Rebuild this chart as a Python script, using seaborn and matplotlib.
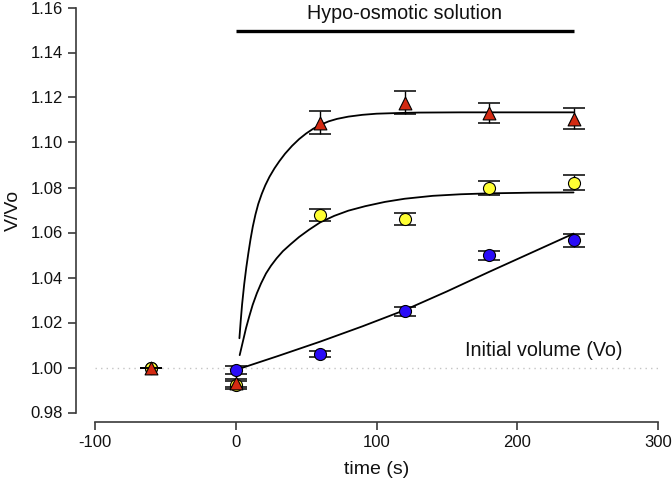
import matplotlib
matplotlib.use("Agg")
import matplotlib.pyplot as plt
import seaborn as sns
import pandas as pd

# ---- data ----
time = [-60, 0, 60, 120, 180, 240]

blue = [1.000, 0.9989, 1.0060, 1.0251, 1.0500, 1.0565]
blue_err = [0.0, 0.0016, 0.0015, 0.0020, 0.0020, 0.0030]

yellow = [1.000, 0.9922, 1.0676, 1.0661, 1.0798, 1.0821]
yellow_err = [0.0, 0.0018, 0.0027, 0.0027, 0.0030, 0.0034]

red = [1.000, 0.9930, 1.1088, 1.1177, 1.1130, 1.1106]
red_err = [0.0, 0.0018, 0.0050, 0.0050, 0.0045, 0.0048]

# fitted curves
red_fit_t = [2.6, 3.5, 4.5, 6.0, 7.5, 9.0, 10.5, 12.1, 14.0, 16.0, 18.5, 21.0, 24.0, 27.5,
             31.0, 35.0, 40.0, 45.0, 50.0, 55.0, 60.0, 66.0, 72.0, 80.0, 90.0, 100.0,
             115.0, 130.0, 160.0, 240.0]
red_fit_v = [1.0130, 1.0205, 1.0280, 1.0370, 1.0445, 1.0510, 1.0570, 1.0626, 1.0680, 1.0727,
             1.0772, 1.0810, 1.0848, 1.0885, 1.0917, 1.0950, 1.0985, 1.1015, 1.1040, 1.1061,
             1.1078, 1.1094, 1.1105, 1.1115, 1.1123, 1.1128, 1.1131, 1.1133, 1.1134, 1.1134]

yellow_fit_t = [2.8, 4.0, 5.5, 7.3, 9.5, 12.0, 15.0, 18.0, 21.5, 25.0, 29.0, 33.5, 39.0,
                45.0, 52.0, 60.0, 70.0, 80.0, 92.0, 106.0, 120.0, 140.0, 160.0, 180.0,
                210.0, 240.0]
yellow_fit_v = [1.0055, 1.0087, 1.0127, 1.0175, 1.0225, 1.0278, 1.0330, 1.0374, 1.0418,
                1.0452, 1.0485, 1.0517, 1.0548, 1.0580, 1.0612, 1.0645, 1.0674, 1.0697,
                1.0717, 1.0736, 1.0750, 1.0763, 1.0770, 1.0774, 1.0777, 1.0778]

blue_fit_t = [0, 30, 60, 90, 120, 150, 180, 210, 240]
blue_fit_v = [0.9989, 1.0051, 1.0115, 1.0183, 1.0255, 1.0338, 1.0425, 1.0510, 1.0595]

x_ticks = [-100, 0, 100, 200, 300]
y_ticks = [0.98, 1.00, 1.02, 1.04, 1.06, 1.08, 1.10, 1.12, 1.14, 1.16]

bar_start, bar_end, bar_level = 0, 240, 1.1497
baseline = 1.00

# ---- style ----
sns.set_style("ticks")
plt.rcParams["font.family"] = ["Liberation Sans", "DejaVu Sans"]

W, H, DPI = 672, 487, 100
fig = plt.figure(figsize=(W / DPI, H / DPI), dpi=DPI)
ax = fig.add_axes([95 / W, (H - 412.5) / H, (658 - 95) / W, (412.5 - 7.5) / H])

spine_col = "#3a3a3a"

# baseline dotted line
ax.plot([-100, 300], [baseline, baseline], color="#c4c4c4", lw=1.0,
        linestyle=(0, (1, 3)), zorder=1)

# hypo-osmotic bar
ax.plot([bar_start, bar_end], [bar_level, bar_level], color="black", lw=2.4,
        solid_capstyle="butt", zorder=2)
ax.text((bar_start + bar_end) / 2, bar_level + 0.0035, "Hypo-osmotic solution",
        ha="center", va="bottom", fontsize=14.2, color="#111111")
ax.text(219, 1.0035, "Initial volume (Vo)", ha="center", va="bottom",
        fontsize=14.2, color="#111111")

# fitted curves
for t, v in [(blue_fit_t, blue_fit_v), (yellow_fit_t, yellow_fit_v), (red_fit_t, red_fit_v)]:
    sns.lineplot(x=t, y=v, ax=ax, color="black", lw=1.3, sort=False,
                 estimator=None, zorder=2.5)

series = [
    (blue, blue_err, "#2a0cf8", "o", 75),
    (yellow, yellow_err, "#ffff33", "o", 75),
    (red, red_err, "#d42a12", "^", 85),
]
z = 3
for vals, err, col, mk, s in series:
    ax.errorbar(time, vals, yerr=err, fmt="none", ecolor="black", elinewidth=1.0,
                capsize=7.6, capthick=1.1, zorder=z)
    df = pd.DataFrame({"t": time, "v": vals})
    sns.scatterplot(data=df, x="t", y="v", ax=ax, marker=mk, color=col,
                    edgecolor="black", linewidth=0.8, s=s, zorder=z + 0.5,
                    legend=False)
    z += 1

ax.set_xlim(-100, 300)
ax.set_ylim(0.98, 1.16)
ax.set_xticks(x_ticks)
ax.set_xticklabels([str(v) for v in x_ticks])
ax.set_yticks(y_ticks)
ax.set_yticklabels([f"{v:.2f}" for v in y_ticks])

for side in ("top", "right"):
    ax.spines[side].set_visible(False)
ax.spines["left"].set_position(("outward", 13.7))
ax.spines["bottom"].set_position(("outward", 6.8))
for side in ("left", "bottom"):
    ax.spines[side].set_color(spine_col)
    ax.spines[side].set_linewidth(1.2)

ax.tick_params(axis="both", direction="out", length=6, width=1.2, color=spine_col,
               labelsize=12, labelcolor="#111111", pad=3.5)

ax.set_xlabel("time (s)", fontsize=14, color="#111111", labelpad=8)
ax.set_ylabel("V/Vo", fontsize=14, color="#111111", labelpad=6)

fig.savefig("out.png", dpi=DPI)
